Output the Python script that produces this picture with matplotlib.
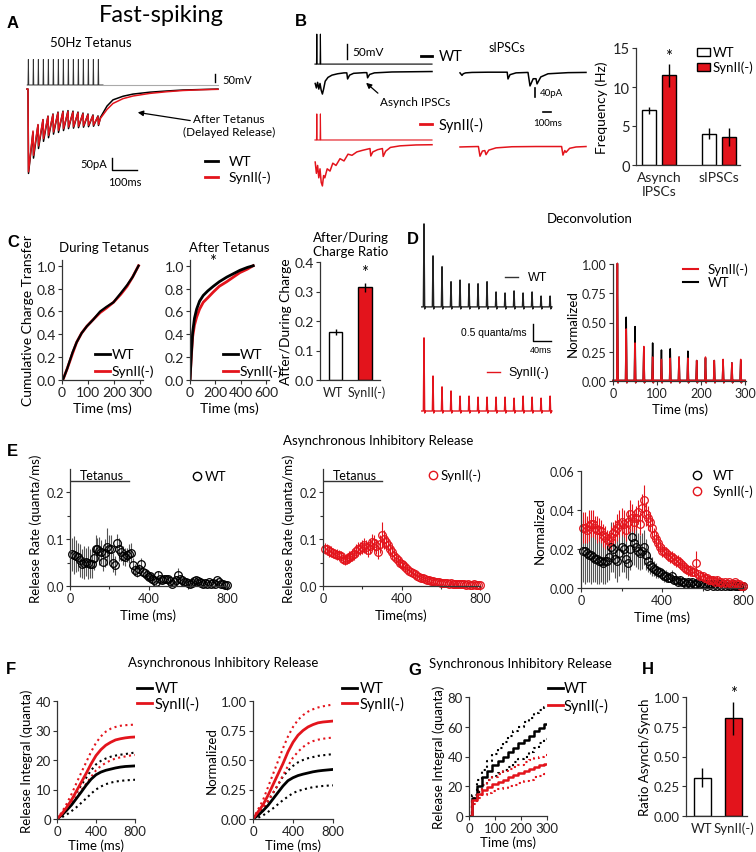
import matplotlib
matplotlib.use('Agg')
import matplotlib.pyplot as plt
from matplotlib.lines import Line2D
from matplotlib.patches import Rectangle, FancyArrowPatch
from matplotlib.ticker import FormatStrFormatter

plt.rcParams['font.family'] = ['Lato', 'DejaVu Sans']

RED = '#e3141c'
W, H = 756, 853

# ---------------- data ----------------
# A: 50 Hz tetanus, evoked IPSC in pA (level before each pulse, trough after it)
tet_t = [0, 20, 40, 60, 80, 100, 120, 140, 160, 180, 200, 220, 240, 260, 280]
a_spike_mv = [160, 160, 160, 160, 160, 160, 160, 160, 160, 160, 160, 160, 160, 160, 160]
a_pre_wt = [0, -180, -150, -128, -113, -104, -96, -92, -90, -92, -96, -100, -104, -108, -112]
a_trough_wt = [-352, -288, -248, -218, -203, -188, -181, -173, -165, -163, -161, -159, -157, -155, -152]
a_pre_syn = [0, -175, -148, -127, -114, -106, -99, -95, -94, -96, -99, -103, -107, -111, -115]
a_trough_syn = [-345, -276, -237, -207, -193, -179, -172, -165, -158, -157, -155, -153, -151, -150, -148]
a_rec_t = [290, 316, 340, 380, 420, 488, 556, 620, 690, 760]
a_rec_wt = [-118, -71, -45, -30, -21, -13, -8, -4, -2, 0]
a_rec_syn = [-122, -85, -60, -40, -29, -18, -11, -6, -3, -1]

# B: example traces (ms, pA relative to baseline; stimulus spikes in mV)
b_spike_t = [460, 505]
b_spike_wt = [100, 100]
b_spike_syn = [87, 87]
b_wt_t = [440, 455, 470, 485, 500, 515, 530, 545, 565, 600, 650, 720, 800, 835, 845, 870, 920,
          1050, 1085, 1095, 1120, 1180, 1400, 1900]
b_wt_v = [-55, -75, -50, -80, -55, -85, -102, -80, -45, -28, -18, -12, -8, -8, -35, -18, -10,
          -7, -7, -30, -15, -8, -4, -2]
b_syn_t = [440, 455, 470, 485, 500, 515, 530, 545, 560, 590, 625, 660, 700, 750, 800, 850, 900,
           960, 1030, 1100, 1125, 1135, 1160, 1220, 1280, 1290, 1320, 1380, 1500, 1700, 1900]
b_syn_v = [-80, -130, -95, -150, -110, -170, -186, -140, -150, -110, -120, -85, -95, -65, -75, -45, -50,
           -35, -28, -22, -20, -53, -35, -25, -20, -55, -32, -15, -8, -4, -3]
b_spwt_t = [2250, 2275, 2290, 2320, 2400, 2600, 2840, 2850, 2875, 2950, 3100, 3125, 3165, 3200, 3213,
            3260, 3350, 3600, 3825]
b_spwt_v = [-4, -15, -8, -4, -2, -1, -1, -31, -12, -4, -2, -62, -30, -30, -53, -22, -8, -3, -2]
b_spsyn_t = [2250, 2350, 2480, 2500, 2530, 2560, 2575, 2610, 2700, 2900, 3200, 3520, 3537, 3560, 3575,
             3620, 3700, 3825]
b_spsyn_v = [-4, -3, -2, -45, -22, -20, -38, -18, -8, -3, -2, -2, -40, -20, -28, -10, -4, -2]
# B: frequency bars
freq_groups = ['Asynch\nIPSCs', 'sIPSCs']
freq_wt = [7.0, 4.0]
freq_wt_err = [0.5, 0.7]
freq_syn = [11.5, 3.6]
freq_syn_err = [1.5, 1.2]

# C: cumulative charge
c1_t = [0, 5, 20, 40, 56, 75, 95, 120, 146, 170, 197, 225, 249, 270, 293]
c1_wt = [0, 0.01, 0.1, 0.24, 0.33, 0.41, 0.47, 0.53, 0.6, 0.64, 0.68, 0.76, 0.83, 0.9, 1.0]
c1_syn = [0, 0.01, 0.1, 0.23, 0.33, 0.41, 0.47, 0.53, 0.59, 0.63, 0.68, 0.75, 0.82, 0.9, 1.0]
c2_t = [0, 10, 21, 35, 52, 75, 104, 140, 183, 230, 288, 340, 392, 450, 496]
c2_wt = [0, 0.22, 0.42, 0.54, 0.62, 0.69, 0.74, 0.78, 0.82, 0.86, 0.9, 0.93, 0.96, 0.985, 1.0]
c2_syn = [0, 0.2, 0.38, 0.48, 0.55, 0.62, 0.68, 0.72, 0.77, 0.82, 0.86, 0.9, 0.94, 0.97, 1.0]
ratio_groups = ['WT', 'SynII(-)']
charge_ratio = [0.163, 0.315]
charge_ratio_err = [0.01, 0.015]

# D: deconvolved release rate, peak per pulse
peak_t = [10, 30, 50, 70, 90, 110, 130, 150, 170, 190, 210, 230, 250, 270, 290]
dec_wt = [2.44, 1.50, 1.18, 0.74, 0.79, 0.68, 0.68, 0.74, 0.44, 0.41, 0.47, 0.41, 0.44, 0.32, 0.32]
dec_syn = [2.15, 1.03, 0.71, 0.59, 0.44, 0.44, 0.41, 0.41, 0.41, 0.41, 0.38, 0.44, 0.41, 0.38, 0.44]
norm_wt = [1.0, 0.54, 0.46, 0.28, 0.32, 0.26, 0.27, 0.20, 0.25, 0.17, 0.19, 0.17, 0.17, 0.15, 0.17]
norm_syn = [1.0, 0.44, 0.32, 0.29, 0.20, 0.18, 0.19, 0.20, 0.19, 0.17, 0.20, 0.17, 0.18, 0.15, 0.18]

# E: asynchronous release rate, 10 ms bins
e_t = list(range(10, 810, 10))
e1_wt = [0.068, 0.066, 0.064, 0.062, 0.055, 0.048, 0.050, 0.051, 0.050, 0.048,
         0.047, 0.060, 0.080, 0.078, 0.074, 0.073, 0.051, 0.070, 0.084, 0.080,
         0.078, 0.050, 0.044, 0.091, 0.078, 0.073, 0.065, 0.062, 0.066, 0.069,
         0.071, 0.044, 0.035, 0.030, 0.037, 0.048, 0.030, 0.027, 0.023, 0.019,
         0.021, 0.016, 0.012, 0.009, 0.023, 0.015, 0.012, 0.014, 0.016, 0.016,
         0.010, 0.005, 0.008, 0.012, 0.023, 0.015, 0.012, 0.008, 0.009, 0.007,
         0.005, 0.006, 0.010, 0.012, 0.010, 0.009, 0.007, 0.005, 0.006, 0.005,
         0.008, 0.005, 0.006, 0.004, 0.012, 0.008, 0.005, 0.004, 0.003, 0.003]
e1_wt_err = [0.035, 0.04, 0.035, 0.03, 0.035, 0.03, 0.035, 0.03, 0.035, 0.03,
             0.03, 0.025, 0.03, 0.025, 0.03, 0.025, 0.02, 0.03, 0.04, 0.03,
             0.03, 0.02, 0.02, 0.02, 0.025, 0.02, 0.02, 0.02, 0.015, 0.02,
             0.02, 0.015, 0.012, 0.01, 0.01, 0.012, 0.01, 0.008, 0.008, 0.008,
             0.008, 0.007, 0.006, 0.006, 0.008, 0.006, 0.005, 0.005, 0.006, 0.005,
             0.005, 0.004, 0.005, 0.006, 0.015, 0.006, 0.005, 0.004, 0.004, 0.004,
             0.004, 0.004, 0.005, 0.005, 0.005, 0.004, 0.004, 0.003, 0.004, 0.003,
             0.004, 0.003, 0.004, 0.003, 0.005, 0.004, 0.003, 0.003, 0.002, 0.002]
e2_syn = [0.080, 0.078, 0.074, 0.073, 0.070, 0.069, 0.067, 0.066, 0.064, 0.058,
          0.055, 0.058, 0.062, 0.062, 0.066, 0.069, 0.075, 0.080, 0.080, 0.083,
          0.087, 0.083, 0.076, 0.085, 0.094, 0.091, 0.085, 0.073, 0.090, 0.109,
          0.100, 0.094, 0.087, 0.079, 0.073, 0.065, 0.060, 0.055, 0.050, 0.046,
          0.044, 0.040, 0.036, 0.033, 0.030, 0.028, 0.026, 0.022, 0.020, 0.018,
          0.017, 0.015, 0.013, 0.012, 0.011, 0.010, 0.009, 0.008, 0.009, 0.007,
          0.006, 0.007, 0.006, 0.005, 0.006, 0.005, 0.005, 0.004, 0.005, 0.004,
          0.005, 0.004, 0.003, 0.004, 0.003, 0.003, 0.004, 0.003, 0.003, 0.002]
e2_syn_err = [0.012, 0.012, 0.011, 0.012, 0.011, 0.010, 0.011, 0.010, 0.010, 0.010,
              0.010, 0.011, 0.012, 0.011, 0.012, 0.013, 0.014, 0.015, 0.014, 0.015,
              0.016, 0.015, 0.014, 0.016, 0.018, 0.017, 0.016, 0.015, 0.020, 0.028,
              0.020, 0.018, 0.015, 0.014, 0.012, 0.011, 0.010, 0.010, 0.009, 0.008,
              0.008, 0.007, 0.007, 0.006, 0.006, 0.006, 0.005, 0.005, 0.005, 0.004,
              0.004, 0.004, 0.004, 0.003, 0.003, 0.003, 0.003, 0.003, 0.003, 0.003,
              0.003, 0.003, 0.002, 0.002, 0.002, 0.002, 0.002, 0.002, 0.002, 0.002,
              0.002, 0.002, 0.002, 0.002, 0.002, 0.002, 0.002, 0.002, 0.002, 0.002]
e3_wt = [0.019, 0.019, 0.018, 0.017, 0.017, 0.016, 0.015, 0.015, 0.014, 0.014,
         0.013, 0.014, 0.014, 0.016, 0.021, 0.020, 0.015, 0.014, 0.018, 0.021,
         0.020, 0.015, 0.013, 0.020, 0.026, 0.023, 0.021, 0.019, 0.018, 0.019,
         0.021, 0.017, 0.014, 0.012, 0.011, 0.010, 0.009, 0.008, 0.008, 0.007,
         0.006, 0.006, 0.005, 0.005, 0.006, 0.004, 0.004, 0.003, 0.004, 0.003,
         0.003, 0.002, 0.003, 0.002, 0.003, 0.002, 0.002, 0.003, 0.002, 0.002,
         0.002, 0.001, 0.002, 0.002, 0.001, 0.002, 0.001, 0.002, 0.001, 0.002,
         0.001, 0.002, 0.001, 0.001, 0.002, 0.001, 0.001, 0.001, 0.001, 0.001]
e3_wt_err = [0.016, 0.017, 0.015, 0.014, 0.015, 0.013, 0.012, 0.013, 0.012, 0.011,
             0.011, 0.012, 0.011, 0.012, 0.013, 0.012, 0.010, 0.011, 0.012, 0.013,
             0.012, 0.010, 0.009, 0.011, 0.012, 0.011, 0.010, 0.009, 0.009, 0.009,
             0.009, 0.008, 0.006, 0.005, 0.005, 0.004, 0.004, 0.003, 0.003, 0.003,
             0.003, 0.003, 0.002, 0.002, 0.003, 0.002, 0.002, 0.002, 0.002, 0.002,
             0.002, 0.001, 0.002, 0.001, 0.002, 0.001, 0.001, 0.002, 0.001, 0.001,
             0.001, 0.001, 0.001, 0.001, 0.001, 0.001, 0.001, 0.001, 0.001, 0.001,
             0.001, 0.001, 0.001, 0.001, 0.001, 0.001, 0.001, 0.001, 0.001, 0.001]
e3_syn = [0.031, 0.031, 0.030, 0.032, 0.033, 0.033, 0.031, 0.030, 0.030, 0.029,
          0.027, 0.026, 0.025, 0.024, 0.026, 0.028, 0.029, 0.031, 0.033, 0.034,
          0.033, 0.030, 0.034, 0.038, 0.036, 0.034, 0.036, 0.039, 0.033, 0.041,
          0.045, 0.038, 0.036, 0.034, 0.031, 0.027, 0.025, 0.023, 0.021, 0.019,
          0.019, 0.018, 0.017, 0.016, 0.016, 0.015, 0.014, 0.014, 0.013, 0.012,
          0.011, 0.010, 0.009, 0.009, 0.008, 0.008, 0.013, 0.007, 0.006, 0.006,
          0.005, 0.005, 0.004, 0.004, 0.004, 0.003, 0.004, 0.003, 0.003, 0.002,
          0.003, 0.002, 0.003, 0.002, 0.002, 0.003, 0.002, 0.002, 0.001, 0.001]
e3_syn_err = [0.008, 0.008, 0.007, 0.008, 0.007, 0.007, 0.006, 0.007, 0.006, 0.006,
              0.006, 0.006, 0.005, 0.005, 0.006, 0.006, 0.006, 0.007, 0.007, 0.007,
              0.007, 0.006, 0.006, 0.007, 0.007, 0.006, 0.006, 0.006, 0.006, 0.007,
              0.008, 0.006, 0.006, 0.005, 0.005, 0.004, 0.004, 0.004, 0.003, 0.003,
              0.003, 0.003, 0.003, 0.003, 0.003, 0.003, 0.003, 0.003, 0.003, 0.003,
              0.003, 0.003, 0.003, 0.003, 0.002, 0.002, 0.006, 0.002, 0.002, 0.002,
              0.002, 0.002, 0.002, 0.002, 0.002, 0.001, 0.002, 0.001, 0.001, 0.001,
              0.001, 0.001, 0.001, 0.001, 0.001, 0.001, 0.001, 0.001, 0.001, 0.001]

# F: integrated asynchronous release (mean and +/- SEM)
f_t = [0, 50, 100, 150, 200, 250, 300, 350, 400, 450, 500, 550, 600, 650, 700, 750, 800]
f1_wt = [0, 1.3, 3, 4.8, 7, 9.2, 11.5, 13.5, 15, 15.9, 16.5, 16.9, 17.3, 17.6, 17.8, 17.9, 18]
f1_wt_hi = [0, 1.8, 4, 6.5, 9, 11.5, 14, 16.5, 18.5, 19.7, 20.5, 21.1, 21.5, 21.8, 22, 22.3, 22.5]
f1_wt_lo = [0, 0.6, 1.5, 2.7, 4, 5.5, 7, 8.6, 10, 11, 11.8, 12.3, 12.7, 12.9, 13.1, 13.2, 13.3]
f1_syn = [0, 1.8, 4, 6.5, 9.5, 12.5, 15.5, 18.7, 21.5, 23.5, 25, 26, 26.8, 27.2, 27.5, 27.7, 27.8]
f1_syn_hi = [0, 2.3, 5.2, 8.5, 12.2, 15.8, 19.3, 22.8, 25.8, 28, 29.6, 30.6, 31.2, 31.6, 31.8, 31.9, 32]
f1_syn_lo = [0, 1.3, 3, 5.2, 7.5, 9.8, 12, 14.3, 16.5, 18, 19, 19.9, 20.5, 20.9, 21.2, 21.5, 21.7]
f2_wt = [0, 0.03, 0.07, 0.115, 0.17, 0.225, 0.28, 0.325, 0.35, 0.368, 0.38, 0.39, 0.40, 0.407, 0.412, 0.416, 0.42]
f2_wt_hi = [0, 0.04, 0.09, 0.15, 0.22, 0.29, 0.36, 0.41, 0.45, 0.48, 0.50, 0.515, 0.525, 0.535, 0.54, 0.545, 0.55]
f2_wt_lo = [0, 0.01, 0.03, 0.06, 0.09, 0.125, 0.16, 0.19, 0.22, 0.237, 0.25, 0.26, 0.27, 0.275, 0.28, 0.283, 0.285]
f2_syn = [0, 0.06, 0.12, 0.2, 0.29, 0.38, 0.47, 0.57, 0.65, 0.71, 0.75, 0.78, 0.80, 0.815, 0.822, 0.826, 0.83]
f2_syn_hi = [0, 0.08, 0.16, 0.27, 0.38, 0.49, 0.6, 0.7, 0.78, 0.84, 0.88, 0.91, 0.93, 0.945, 0.955, 0.963, 0.97]
f2_syn_lo = [0, 0.04, 0.09, 0.15, 0.22, 0.29, 0.37, 0.45, 0.52, 0.57, 0.61, 0.64, 0.66, 0.672, 0.68, 0.686, 0.69]

# G: integrated synchronous release, value after each pulse
g_t = [10, 30, 50, 70, 90, 110, 130, 150, 170, 190, 210, 230, 250, 270, 290]
g_wt = [12, 20, 26, 30, 34, 37, 40, 43, 46, 49, 51, 54, 57, 59, 62]
g_wt_hi = [14, 24, 31, 37, 42, 46, 50, 54, 57, 60, 63, 66, 69, 71, 73]
g_wt_lo = [10, 16, 21, 24, 27, 29, 31, 33, 36, 38, 40, 43, 46, 49, 52]
g_syn = [11, 15, 17.5, 19.5, 21.5, 23, 24.5, 26, 27.5, 29, 30, 31.5, 33, 34, 35]
g_syn_hi = [12, 17, 21, 24, 26, 28, 30, 31.5, 33, 34.5, 36, 37.5, 39, 40, 41]
g_syn_lo = [8, 12, 14, 15.5, 17, 18, 19, 20, 21, 22, 23.5, 24.5, 26, 27, 28]

# H: asynch / synch ratio
as_ratio = [0.32, 0.82]
as_ratio_err = [0.08, 0.14]

# ---------------- helpers ----------------
fig = plt.figure(figsize=(W / 100, H / 100), dpi=100)


def box(l, t, r, b):
    return [l / W, 1 - b / H, (r - l) / W, (b - t) / H]


def txt(x, y, s, size=8.5, ha='left', **kw):
    fig.text(x / W, 1 - y / H, s, fontsize=size, ha=ha, va='center', **kw)


def key(x0, x1, y, color, lw=2):
    fig.add_artist(Line2D([x0 / W, x1 / W], [1 - y / H, 1 - y / H], color=color, lw=lw))


def ckey(x, y, color):
    fig.add_artist(Line2D([x / W], [1 - y / H], marker='o', ms=6, mfc='none', mec=color, mew=1))


def arrow(x0, y0, x1, y1):
    fig.add_artist(FancyArrowPatch((x0 / W, 1 - y0 / H), (x1 / W, 1 - y1 / H),
                                   arrowstyle='-|>', mutation_scale=8, color='k', lw=0.9))


def setup(ax, size=9):
    for s in ('top', 'right'):
        ax.spines[s].set_visible(False)
    for s in ('left', 'bottom'):
        ax.spines[s].set_linewidth(0.9)
        ax.spines[s].set_color('#333')
    ax.tick_params(labelsize=size, length=3, width=0.8, pad=1.5, color='#333', labelcolor='#222')
    ax.tick_params(which='minor', length=2, width=0.8, color='#333')


def bars(ax, vals, errs, labels, width, size, label_pos=None):
    x = list(range(len(vals)))
    ax.bar(x, vals, width=width, color=['white', RED], edgecolor='k', lw=1, zorder=2)
    ax.errorbar(x, vals, yerr=errs, fmt='none', ecolor='k', elinewidth=1, capsize=0, zorder=3)
    ax.set_xticks(label_pos if label_pos else x, labels, fontsize=size)
    ax.tick_params(axis='x', length=0, pad=4)


# ---------------- titles / letters ----------------
txt(161, 16, 'Fast-spiking', size=17, ha='center')
for lt, x, y in [('A', 7, 23), ('B', 295, 22), ('C', 7, 243), ('D', 407, 240),
                 ('E', 7, 452), ('F', 6, 669), ('G', 408, 671), ('H', 642, 670)]:
    txt(x, y, lt, size=12, fontweight='bold', family=['Liberation Sans', 'DejaVu Sans'])

# ---------------- A ----------------
axA = fig.add_axes(box(25, 45, 225, 190))
axA.set_xlim(-12, 788)
axA.set_ylim(-417, 188)
axA.axis('off')
sx, sy = [-3], [17]
for t, a in zip(tet_t, a_spike_mv):
    sx += [t, t + 1.5, t + 3]
    sy += [17, 17 + a * 0.667, 17]
axA.plot(sx + [300], sy + [17], color='#333', lw=0.7)
axA.plot([300, 760], [17, 17], color='#aaa', lw=0.8)


def evoked(pre, trough, rec):
    xs, ys = [-4], [0]
    for t, p, m in zip(tet_t, pre, trough):
        xs += [t, t + 2]
        ys += [p, m]
    return xs + a_rec_t, ys + rec


axA.plot(*evoked(a_pre_wt, a_trough_wt, a_rec_wt), color='k', lw=1.1)
axA.plot(*evoked(a_pre_syn, a_trough_syn, a_rec_syn), color=RED, lw=1.1)
axA.plot([336, 336, 436], [-288, -338, -338], color='k', lw=1)
axA.plot([748, 748], [29, 29 + 50 * 0.667], color='k', lw=1)
txt(50, 43, '50Hz Tetanus', size=9.5)
txt(222, 80, '50mV', size=8)
txt(107, 165, '50pA', size=8, ha='right')
txt(125, 182, '100ms', size=8, ha='center')
txt(229, 120, 'After Tetanus', size=8.5, ha='center')
txt(229, 132, '(Delayed Release)', size=8.5, ha='center')
arrow(193, 122, 135, 113)
key(205, 218, 162, 'k')
key(205, 218, 178, RED)
txt(229, 162, 'WT', size=10)
txt(229, 178, 'SynII(-)', size=10)

# ---------------- B traces ----------------
axBt = fig.add_axes(box(280, 25, 600, 200))
axBt.set_xlim(0, 4000)
axBt.set_ylim(-777, 0)
axBt.axis('off')


def stim(amps, base):
    xs, ys = [437], [base]
    for t, a in zip(b_spike_t, amps):
        xs += [t - 4, t, t + 4]
        ys += [base, base + a * 1.33, base]
    return xs + [1900], ys + [base]


axBt.plot(*stim(b_spike_wt, -178), color='k', lw=0.8)
axBt.plot(*stim(b_spike_syn, -515), color=RED, lw=0.8)
axBt.plot(b_wt_t, [-209 + v for v in b_wt_v], color='k', lw=1.1)
axBt.plot(b_spwt_t, [-213 + v for v in b_spwt_v], color='k', lw=1.1)
axBt.plot(b_syn_t, [-533 + v for v in b_syn_v], color=RED, lw=1.1)
axBt.plot(b_spsyn_t, [-542 + v for v in b_spsyn_v], color=RED, lw=1.1)
axBt.plot([838, 838], [-155, -155 + 50 * 1.33], color='k', lw=1)
axBt.plot([3188, 3188], [-324, -284], color='k', lw=1.2)
axBt.plot([3288, 3388], [-391, -391], color='k', lw=1.2)
txt(352, 52, '50mV', size=8.5)
key(421, 432, 57, 'k')
txt(439, 57, 'WT', size=10.5)
txt(507, 48, 'sIPSCs', size=9, ha='center')
txt(380, 103, 'Asynch IPSCs', size=8.5)
arrow(380, 96, 364, 82)
key(420, 432, 125, RED)
txt(439, 125, 'SynII(-)', size=10.5)
txt(540, 93, '40pA', size=7)
txt(548, 124, '100ms', size=7, ha='center')

# ---------------- B bars ----------------
axB = fig.add_axes(box(636, 49, 740, 166))
setup(axB, 10.5)
xw = [0, 3.1]
xs_ = [1, 4.1]
axB.bar(xw, freq_wt, width=0.72, color='white', edgecolor='k', lw=1, zorder=2)
axB.bar(xs_, freq_syn, width=0.72, color=RED, edgecolor='k', lw=1, zorder=2)
axB.errorbar(xw, freq_wt, yerr=freq_wt_err, fmt='none', ecolor='k', elinewidth=1, capsize=0, zorder=3)
axB.errorbar(xs_, freq_syn, yerr=freq_syn_err, fmt='none', ecolor='k', elinewidth=1, capsize=0, zorder=3)
axB.set_xlim(-0.67, 4.67)
axB.set_ylim(0, 15)
axB.set_yticks([0, 5, 10, 15])
axB.set_xticks([0.5, 3.6])
axB.set_xticklabels(freq_groups, fontsize=10)
axB.tick_params(axis='x', length=0, pad=4)
axB.set_ylabel('Frequency (Hz)', fontsize=10, labelpad=3)
axB.text(1, freq_syn[0] + freq_syn_err[0] + 0.3, '*', ha='center', fontsize=12)
fig.add_artist(Rectangle((697 / W, 1 - 57 / H), 13 / W, 8 / H, facecolor='white', edgecolor='k', lw=1))
fig.add_artist(Rectangle((697 / W, 1 - 72 / H), 13 / W, 8 / H, facecolor=RED, edgecolor='k', lw=1))
txt(713, 53, 'WT', size=9.5)
txt(713, 68, 'SynII(-)', size=9.5)

# ---------------- C ----------------
axC1 = fig.add_axes(box(62, 261, 143, 381))
setup(axC1, 10)
axC1.plot(c1_t, c1_syn, color=RED, lw=2)
axC1.plot(c1_t, c1_wt, color='k', lw=1.6)
axC1.set_xlim(0, 310)
axC1.set_ylim(0, 1.05)
axC1.set_xticks([0, 100, 200, 300])
axC1.set_yticks([0, 0.2, 0.4, 0.6, 0.8, 1.0])
axC1.yaxis.set_major_formatter(FormatStrFormatter('%.1f'))
axC1.set_xlabel('Time (ms)', fontsize=10, labelpad=2)
axC1.set_ylabel('Cumulative Charge Transfer', fontsize=10, labelpad=2)
txt(104, 248, 'During Tetanus', size=9.5, ha='center')
key(95, 110, 355, 'k')
key(95, 110, 372, RED)
txt(112, 355, 'WT', size=10)
txt(112, 372, 'SynII(-)', size=10)

axC2 = fig.add_axes(box(190, 261, 269, 381))
setup(axC2, 10)
axC2.plot(c2_t, c2_syn, color=RED, lw=2)
axC2.plot(c2_t, c2_wt, color='k', lw=2)
axC2.set_xlim(0, 620)
axC2.set_ylim(0, 1.05)
axC2.set_xticks([0, 200, 400, 600])
axC2.set_yticks([0, 0.2, 0.4, 0.6, 0.8, 1.0])
axC2.yaxis.set_major_formatter(FormatStrFormatter('%.1f'))
axC2.set_xlabel('Time (ms)', fontsize=10, labelpad=2)
axC2.text(180, 1.0, '*', ha='center', fontsize=12)
txt(229, 248, 'After Tetanus', size=9.5, ha='center')
key(223, 238, 355, 'k')
key(223, 238, 372, RED)
txt(240, 355, 'WT', size=10)
txt(240, 372, 'SynII(-)', size=10)

axC3 = fig.add_axes(box(320, 263, 380, 381))
setup(axC3, 10)
bars(axC3, charge_ratio, charge_ratio_err, ratio_groups, 0.45, 9, label_pos=[-0.1, 1.05])
axC3.set_xlim(-0.53, 1.51)
axC3.set_ylim(0, 0.4)
axC3.set_yticks([0, 0.1, 0.2, 0.3, 0.4])
axC3.yaxis.set_major_formatter(FormatStrFormatter('%.1f'))
axC3.set_ylabel('After/During Charge', fontsize=10, labelpad=2)
axC3.text(1, 0.35, '*', ha='center', fontsize=12)
txt(351, 238, 'After/During', size=9.5, ha='center')
txt(351, 252, 'Charge Ratio', size=9.5, ha='center')

# ---------------- D ----------------
txt(590, 219, 'Deconvolution', size=9.5, ha='center')


def spikes(heights, base, t0, t1, dip):
    xs, ys = [t0], [base]
    for t, h in zip(peak_t, heights):
        xs += [t - 1.5, t, t + 1.5, t + 3]
        ys += [base, base + h, base - dip, base]
    return xs + [t1], ys + [base]


axDl = fig.add_axes(box(415, 215, 560, 420))
axDl.set_xlim(-10, 312)
axDl.set_ylim(-0.235, 5.79)
axDl.axis('off')
axDl.plot(*spikes(dec_wt, 3.06, 5, 294, 0.06), color='#222', lw=1)
axDl.plot(*spikes(dec_syn, 0, 5, 294, 0.06), color=RED, lw=1)
axDl.plot([252, 252, 292], [2.56, 2.06, 2.06], color='k', lw=1)
arial = ['Liberation Sans', 'DejaVu Sans']
txt(527, 333, '0.5 quanta/ms', size=7.5, ha='right', family=arial)
txt(541, 351, '40ms', size=6.5, ha='center', family=arial)
key(505, 518, 278, '#333', 1)
txt(528, 278, 'WT', size=9, family=arial)
key(487, 500, 373, RED, 1)
txt(508, 373, 'SynII(-)', size=9, family=arial)

axDr = fig.add_axes(box(613, 265, 746, 382))
setup(axDr, 9)
axDr.plot(*spikes(norm_wt, 0.005, 0, 300, 0.02), color='k', lw=1.1, clip_on=False)
axDr.plot(*spikes(norm_syn, 0.005, 0, 300, 0.02), color=RED, lw=1.1, clip_on=False)
axDr.set_xlim(0, 302)
axDr.set_ylim(0, 1.0)
axDr.set_xticks([0, 100, 200, 300])
axDr.set_yticks([0, 0.25, 0.5, 0.75, 1.0])
axDr.yaxis.set_major_formatter(FormatStrFormatter('%.2f'))
axDr.set_xlabel('Time (ms)', fontsize=9.5, labelpad=2)
axDr.set_ylabel('Normalized', fontsize=9.5, labelpad=2)
key(683, 698, 270, RED, 1.5)
key(683, 698, 283, 'k', 1.5)
txt(708, 270, 'SynII(-)', size=9.5)
txt(708, 283, 'WT', size=9.5)

# ---------------- E ----------------
txt(378, 441, 'Asynchronous Inhibitory Release', size=9.5, ha='center')


def rate_plot(ax, vals, errs, color, ecolor):
    c = ax.errorbar(e_t, vals, yerr=errs, fmt='o', ms=5.5, mfc='none', mec=color, mew=0.9,
                    ecolor=ecolor, elinewidth=0.8, capsize=0)
    for a in c.get_children():
        a.set_clip_on(False)


for l, r, vals, errs, col, ecol, xlab in [(70, 227, e1_wt, e1_wt_err, 'k', '#555', 'Time (ms)'),
                                          (323, 480, e2_syn, e2_syn_err, RED, RED, 'Time(ms)')]:
    ax = fig.add_axes(box(l, 470, r, 587))
    setup(ax, 9)
    rate_plot(ax, vals, errs, col, ecol)
    ax.set_xlim(0, 800)
    ax.set_ylim(0, 0.25)
    ax.set_xticks([0, 400, 800])
    ax.set_xticks([200, 600], minor=True)
    ax.set_yticks([0, 0.1, 0.2])
    ax.set_yticks([0.05, 0.15], minor=True)
    ax.yaxis.set_major_formatter(FormatStrFormatter('%.1f'))
    ax.set_xlabel(xlab, fontsize=9.5, labelpad=3)
    ax.set_ylabel('Release Rate (quanta/ms)', fontsize=9.5, labelpad=3)
    ax.plot([0, 300], [0.225, 0.225], color='#333', lw=1)
    txt(l + 10, 476, 'Tetanus', size=9)
ckey(197, 477, 'k')
txt(205, 477, 'WT', size=9.5)
ckey(433, 476, RED)
txt(441, 476, 'SynII(-)', size=9.5)

axE3 = fig.add_axes(box(581, 472, 743, 589))
setup(axE3, 9)
rate_plot(axE3, e3_wt, e3_wt_err, 'k', '#555')
rate_plot(axE3, e3_syn, e3_syn_err, RED, RED)
axE3.set_xlim(0, 800)
axE3.set_ylim(0, 0.06)
axE3.set_xticks([0, 400, 800])
axE3.set_xticks([200, 600], minor=True)
axE3.set_yticks([0, 0.02, 0.04, 0.06])
axE3.yaxis.set_major_formatter(FormatStrFormatter('%.2f'))
axE3.set_xlabel('Time (ms)', fontsize=9.5, labelpad=3)
axE3.set_ylabel('Normalized', fontsize=9.5, labelpad=3)
ckey(697, 476, 'k')
txt(713, 476, 'WT', size=9.5)
ckey(697, 492, RED)
txt(713, 492, 'SynII(-)', size=9.5)

# ---------------- F ----------------
txt(223, 663, 'Asynchronous Inhibitory Release', size=9.5, ha='center')
for l, r, lines, top, ticks, fmt, ylab, kx in [
        (57, 135, (f1_wt, f1_wt_hi, f1_wt_lo, f1_syn, f1_syn_hi, f1_syn_lo), 40,
         [0, 10, 20, 30, 40], '%d', 'Release Integral (quanta)', 137),
        (253, 333, (f2_wt, f2_wt_hi, f2_wt_lo, f2_syn, f2_syn_hi, f2_syn_lo), 1.0,
         [0, 0.25, 0.5, 0.75, 1.0], '%.2f', 'Normalized', 342)]:
    ax = fig.add_axes(box(l, 702, r, 820))
    setup(ax, 9.5)
    m, hi, lo, ms_, mhi, mlo = lines
    ax.plot(f_t, hi, color='k', ls=':', lw=1.5)
    ax.plot(f_t, lo, color='k', ls=':', lw=1.5)
    ax.plot(f_t, mhi, color=RED, ls=':', lw=1.5)
    ax.plot(f_t, mlo, color=RED, ls=':', lw=1.5)
    ax.plot(f_t, m, color='k', lw=2)
    ax.plot(f_t, ms_, color=RED, lw=2)
    ax.set_xlim(0, 800)
    ax.set_ylim(0, top)
    ax.set_xticks([0, 400, 800])
    ax.set_yticks(ticks)
    ax.yaxis.set_major_formatter(FormatStrFormatter(fmt))
    ax.set_xlabel('Time (ms)', fontsize=9.5, labelpad=1)
    ax.set_ylabel(ylab, fontsize=9.5, labelpad=2)
    key(kx, kx + 15, 689, 'k')
    key(kx, kx + 15, 704, RED)
    txt(kx + 18, 689, 'WT', size=10.5)
    txt(kx + 18, 704, 'SynII(-)', size=10.5)

# ---------------- G ----------------
txt(520, 664, 'Synchronous Inhibitory Release', size=9.5, ha='center')
axG = fig.add_axes(box(469, 698, 547, 817))
setup(axG, 9.5)


def stair(vals):
    return [0] + g_t + [300], [0] + vals + [vals[-1]]


for vals, col, ls, lw in [(g_wt_hi, 'k', ':', 1.5), (g_wt_lo, 'k', ':', 1.5),
                          (g_syn_hi, RED, ':', 1.5), (g_syn_lo, RED, ':', 1.5),
                          (g_wt, 'k', '-', 1.8), (g_syn, RED, '-', 1.8)]:
    axG.plot(*stair(vals), color=col, ls=ls, lw=lw, drawstyle='steps-post')
axG.set_xlim(0, 300)
axG.set_ylim(0, 80)
axG.set_xticks([0, 100, 200, 300])
axG.set_yticks([0, 20, 40, 60, 80])
axG.set_xlabel('Time (ms)', fontsize=9.5, labelpad=1)
axG.set_ylabel('Release Integral (quanta)', fontsize=9.5, labelpad=2)
key(548, 563, 689, 'k')
key(548, 563, 706, RED)
txt(564, 689, 'WT', size=10.5)
txt(564, 706, 'SynII(-)', size=10.5)

# ---------------- H ----------------
axH = fig.add_axes(box(686, 698, 747, 817))
setup(axH, 9.5)
bars(axH, as_ratio, as_ratio_err, ratio_groups, 0.54, 9.5)
axH.set_xlim(-0.51, 1.43)
axH.set_ylim(0, 1.0)
axH.set_yticks([0, 0.25, 0.5, 0.75, 1.0])
axH.yaxis.set_major_formatter(FormatStrFormatter('%.2f'))
axH.set_ylabel('Ratio Asynch/Synch', fontsize=9.5, labelpad=2)
axH.text(1, as_ratio[1] + as_ratio_err[1] + 0.03, '*', ha='center', fontsize=12)

fig.savefig('out.png', dpi=100)
